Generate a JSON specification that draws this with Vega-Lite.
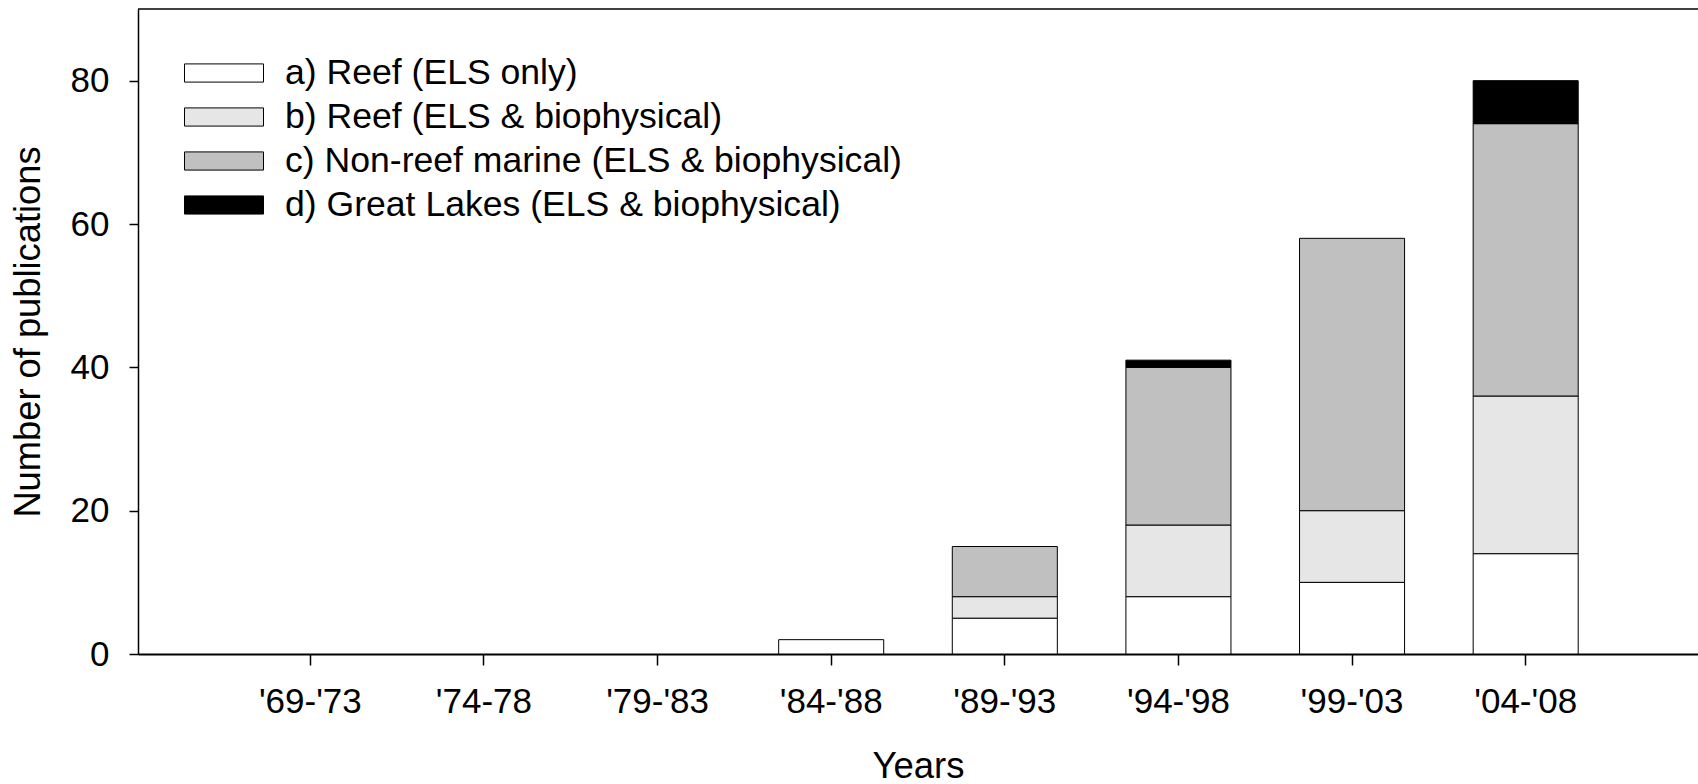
{
  "$schema": "https://vega.github.io/schema/vega-lite/v6.json",
  "width": 1560,
  "height": 645,
  "autosize": {"type": "none"},
  "padding": {"left": 138, "top": 9, "right": 0, "bottom": 130},
  "background": "white",
  "config": {"view": {"stroke": null}, "font": "Liberation Sans"},
  "data": {
    "values": [
      {"period": "'84-'88", "series": "a) Reef (ELS only)", "k": 1, "count": 2},
      {"period": "'89-'93", "series": "a) Reef (ELS only)", "k": 1, "count": 5},
      {"period": "'89-'93", "series": "b) Reef (ELS & biophysical)", "k": 2, "count": 3},
      {"period": "'89-'93", "series": "c) Non-reef marine (ELS & biophysical)", "k": 3, "count": 7},
      {"period": "'94-'98", "series": "a) Reef (ELS only)", "k": 1, "count": 8},
      {"period": "'94-'98", "series": "b) Reef (ELS & biophysical)", "k": 2, "count": 10},
      {"period": "'94-'98", "series": "c) Non-reef marine (ELS & biophysical)", "k": 3, "count": 22},
      {"period": "'94-'98", "series": "d) Great Lakes (ELS & biophysical)", "k": 4, "count": 1},
      {"period": "'99-'03", "series": "a) Reef (ELS only)", "k": 1, "count": 10},
      {"period": "'99-'03", "series": "b) Reef (ELS & biophysical)", "k": 2, "count": 10},
      {"period": "'99-'03", "series": "c) Non-reef marine (ELS & biophysical)", "k": 3, "count": 38},
      {"period": "'04-'08", "series": "a) Reef (ELS only)", "k": 1, "count": 14},
      {"period": "'04-'08", "series": "b) Reef (ELS & biophysical)", "k": 2, "count": 22},
      {"period": "'04-'08", "series": "c) Non-reef marine (ELS & biophysical)", "k": 3, "count": 38},
      {"period": "'04-'08", "series": "d) Great Lakes (ELS & biophysical)", "k": 4, "count": 6}
    ]
  },
  "layer": [
    {
      "mark": {"type": "bar", "stroke": "black", "strokeWidth": 1},
      "encoding": {
        "x": {
          "field": "period",
          "type": "nominal",
          "sort": null,
          "scale": {
            "domain": ["'69-'73", "'74-78", "'79-'83", "'84-'88", "'89-'93", "'94-'98", "'99-'03", "'04-'08"],
            "paddingInner": 0.395,
            "paddingOuter": 0.69
          },
          "axis": {
            "title": "Years",
            "labelAngle": 0,
            "labelFont": "Liberation Sans",
            "titleFont": "Liberation Sans",
            "labelFontSize": 35,
            "titleFontSize": 36.5,
            "titleFontWeight": "normal",
            "labelColor": "black",
            "titleColor": "black",
            "domainColor": "black",
            "domainWidth": 2,
            "tickColor": "black",
            "tickWidth": 1.5,
            "tickSize": 11,
            "labelPadding": 19,
            "titlePadding": 29
          }
        },
        "y": {
          "field": "count",
          "type": "quantitative",
          "stack": "zero",
          "scale": {"domain": [0, 90], "nice": false},
          "axis": {
            "title": "Number of publications",
            "values": [0, 20, 40, 60, 80],
            "grid": false,
            "labelFont": "Liberation Sans",
            "titleFont": "Liberation Sans",
            "labelFontSize": 35,
            "titleFontSize": 36.3,
            "titleFontWeight": "normal",
            "labelColor": "black",
            "titleColor": "black",
            "domainColor": "black",
            "domainWidth": 1.5,
            "tickColor": "black",
            "tickWidth": 1.5,
            "tickSize": 9,
            "labelPadding": 20,
            "titlePadding": 23
          }
        },
        "color": {
          "field": "series",
          "type": "nominal",
          "scale": {
            "domain": ["a) Reef (ELS only)", "b) Reef (ELS & biophysical)", "c) Non-reef marine (ELS & biophysical)", "d) Great Lakes (ELS & biophysical)"],
            "range": ["#ffffff", "#e6e6e6", "#c0c0c0", "#000000"]
          },
          "legend": {
            "orient": "none",
            "legendX": 46,
            "legendY": 43,
            "title": null,
            "padding": 0,
            "symbolType": "M-1,-0.23H1V0.23H-1Z",
            "symbolSize": 6241,
            "symbolStrokeColor": "black",
            "symbolStrokeWidth": 1,
            "symbolOpacity": 1,
            "labelFont": "Liberation Sans",
            "labelFontSize": 35.6,
            "labelColor": "black",
            "labelOffset": 21,
            "labelLimit": 1000,
            "clipHeight": 42,
            "rowPadding": 2
          }
        },
        "order": {"field": "k", "type": "quantitative"}
      }
    },
    {
      "data": {"values": [{}]},
      "mark": {"type": "rule", "stroke": "black", "strokeWidth": 1.5},
      "encoding": {"y": {"datum": 90}}
    }
  ]
}
